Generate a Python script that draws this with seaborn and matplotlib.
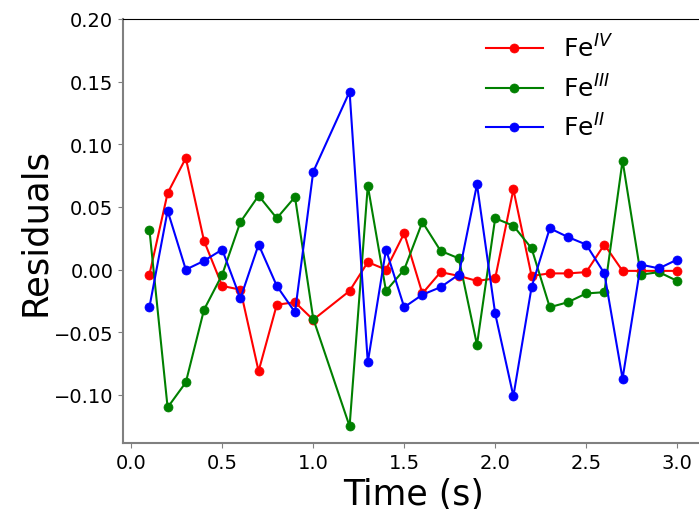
import numpy as np
import pandas as pd
import seaborn as sns
import matplotlib
matplotlib.use('Agg')
import matplotlib.pyplot as plt

time = [0.1, 0.2, 0.3, 0.4, 0.5, 0.6, 0.7, 0.8, 0.9, 1.0,
        1.2, 1.3, 1.4, 1.5, 1.6, 1.7, 1.8, 1.9, 2.0,
        2.1, 2.2, 2.3, 2.4, 2.5, 2.6, 2.7, 2.8, 2.9, 3.0]

fe_iv = [-0.004, 0.061, 0.089, 0.023, -0.013, -0.016, -0.081, -0.028, -0.026, -0.040,
         -0.017, 0.006, 0.000, 0.029, -0.019, -0.002, -0.005, -0.009, -0.007,
         0.064, -0.005, -0.003, -0.003, -0.002, 0.020, -0.001, -0.001, -0.001, -0.001]

fe_iii = [0.032, -0.110, -0.090, -0.032, -0.004, 0.038, 0.059, 0.041, 0.058, -0.039,
          -0.125, 0.067, -0.017, 0.000, 0.038, 0.015, 0.009, -0.060, 0.041,
          0.035, 0.017, -0.030, -0.026, -0.019, -0.018, 0.087, -0.004, -0.002, -0.009]

fe_ii = [-0.030, 0.047, 0.000, 0.007, 0.016, -0.023, 0.020, -0.013, -0.034, 0.078,
         0.142, -0.074, 0.016, -0.030, -0.020, -0.014, -0.004, 0.068, -0.035,
         -0.101, -0.014, 0.033, 0.026, 0.020, -0.003, -0.087, 0.004, 0.001, 0.008]

series = [('Fe$^{IV}$', fe_iv, 'red'),
          ('Fe$^{III}$', fe_iii, 'green'),
          ('Fe$^{II}$', fe_ii, 'blue')]

fig = plt.figure(figsize=(6.99, 5.10), dpi=100)
ax = fig.add_axes([0.176, 0.1294, 0.8305, 0.8314])

for label, vals, col in series:
    df = pd.DataFrame({'t': time, 'r': vals})
    sns.lineplot(data=df, x='t', y='r', ax=ax, color=col, label=label,
                 marker='o', markersize=6.5, markeredgecolor=col,
                 markeredgewidth=0.5, linewidth=1.5)

ax.set_ylim(top=0.2)
ax.set_xticks([0.0, 0.5, 1.0, 1.5, 2.0, 2.5, 3.0])
ax.set_xlabel('Time (s)', fontsize=25)
ax.set_ylabel('Residuals', fontsize=25.5, labelpad=1)
ax.tick_params(axis='both', labelsize=14, color='grey')

for s in ['left', 'bottom']:
    ax.spines[s].set_color('grey')
    ax.spines[s].set_linewidth(1.5)
ax.spines['top'].set_color('black')

ax.legend(loc='upper left', bbox_to_anchor=(0.587, 1.0165), frameon=False,
          fontsize=18, handlelength=2.25)

fig.savefig('out.png', dpi=100)
